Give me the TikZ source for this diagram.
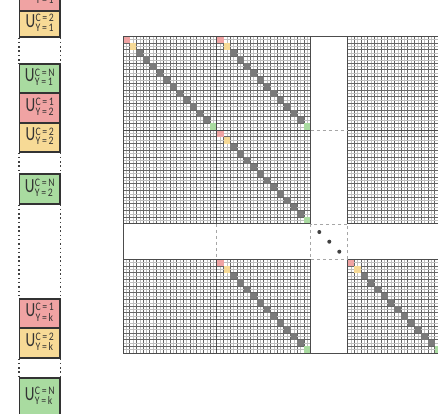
\documentclass[tikz,border=0pt]{standalone}
\usepackage{fontspec}
\setmainfont{Carlito}
\usepackage{graphicx}
\definecolor{cred}{HTML}{F0A3A3}
\definecolor{cyel}{HTML}{F7DA96}
\definecolor{cgrn}{HTML}{A9DBA0}
\definecolor{cdiag}{HTML}{7A7A7A}
\newcommand{\ulab}[2]{\scalebox{0.75}[1]{\fontsize{20}{20}\selectfont U}\kern0.5pt\raisebox{0.4pt}{\fontsize{11.5}{8.2}\selectfont\scalebox{0.85}[1]{\begin{tabular}{@{}l@{}}C\,=\,#1\\Y\,=\,#2\end{tabular}}}}
\begin{document}
\begin{tikzpicture}[x=1pt,y=-1pt,
  lbox/.style={draw=black!80, line width=1.1pt, minimum width=40.5pt, inner sep=0pt, text=black!80},
  dotline/.style={black!75, line width=1.4pt, dash pattern=on 1.5pt off 2.8pt},
  gridl/.style={black!60, line width=0.8pt},
  halfl/.style={black!25, line width=0.4pt},
  blockl/.style={black!70, line width=1pt},
  dashl/.style={black!35, line width=0.8pt, dash pattern=on 3pt off 3pt}]
\useasboundingbox (0,0) rectangle (438,413);
\clip (0,0) rectangle (438,413);
% left column
\node[lbox, fill=cred, minimum height=29pt] (b1) at (39.75,-3.5) {\ulab{1}{1}};
\node[lbox, fill=cyel, minimum height=26pt] (b2) at (39.75,24) {\ulab{2}{1}};
\node[lbox, fill=cgrn, minimum height=29pt] (b3) at (39.75,78.5) {\ulab{N}{1}};
\node[lbox, fill=cred, minimum height=30pt] (b4) at (39.75,108) {\ulab{1}{2}};
\node[lbox, fill=cyel, minimum height=29pt] (b5) at (39.75,137.5) {\ulab{2}{2}};
\node[lbox, fill=cgrn, minimum height=30pt] (b6) at (39.75,189) {\ulab{N}{2}};
\node[lbox, fill=cred, minimum height=29pt] (b7) at (39.75,313.5) {\ulab{1}{k}};
\node[lbox, fill=cyel, minimum height=30pt] (b8) at (39.75,343) {\ulab{2}{k}};
\node[lbox, fill=cgrn, minimum height=38pt] (b9) at (39.75,397) {\ulab{N}{k}};
\foreach \a/\b in {b2/b3, b5/b6, b6/b7, b8/b9}{
  \draw[dotline] (\a.south west) -- (\b.north west);
  \draw[dotline] (\a.south east) -- (\b.north east);
}
% matrix grid
\foreach \cx in {123,216.8,347.5}{
  \foreach \i in {0,...,13}
    \draw[halfl] (\cx+\i*6.7+3.35,36.3) -- (\cx+\i*6.7+3.35,353);
  \foreach \i in {0,...,14}
    \draw[gridl] (\cx+\i*6.7,36.3) -- (\cx+\i*6.7,353);
}
\foreach \ry in {36.3,130.1,259.2}{
  \foreach \i in {0,...,13}
    \draw[halfl] (123,\ry+\i*6.7+3.35) -- (441.3,\ry+\i*6.7+3.35);
  \foreach \i in {0,...,14}
    \draw[gridl] (123,\ry+\i*6.7) -- (441.3,\ry+\i*6.7);
}
\fill[white] (310.6,36.3) rectangle (347.5,353);
\fill[white] (123,223.9) rectangle (441.3,259.2);
% diagonals
\foreach \bx/\by in {123/36.3, 216.8/36.3, 216.8/130.1, 216.8/259.2, 347.5/259.2}{
  \foreach \k in {2,...,12}
    \fill[cdiag] (\bx+\k*6.7,\by+\k*6.7) rectangle ++(6.7,6.7);
  \fill[cred] (\bx,\by) rectangle ++(6.7,6.7);
  \fill[cyel] (\bx+6.7,\by+6.7) rectangle ++(6.7,6.7);
  \fill[cgrn] (\bx+87.1,\by+87.1) rectangle ++(6.7,6.7);
}
% block borders
\foreach \cx in {123,216.8,347.5}
  \foreach \ry in {36.3,130.1,259.2}
    \draw[blockl] (\cx,\ry) rectangle ++(93.8,93.8);
\draw[blockl] (123,36.3) rectangle (441.3,353);
% dashed continuations
\draw[dashl] (310.6,130.1) -- (347.5,130.1);
\draw[dashl] (216.8,223.9) -- (216.8,259.2);
\draw[dashl] (310.6,223.9) rectangle (347.5,259.2);
% ellipsis dots
\fill[black!75] (319.3,232) circle (2pt);
\fill[black!75] (329.3,241.7) circle (2pt);
\fill[black!75] (339.3,251.7) circle (2pt);
\end{tikzpicture}
\end{document}
